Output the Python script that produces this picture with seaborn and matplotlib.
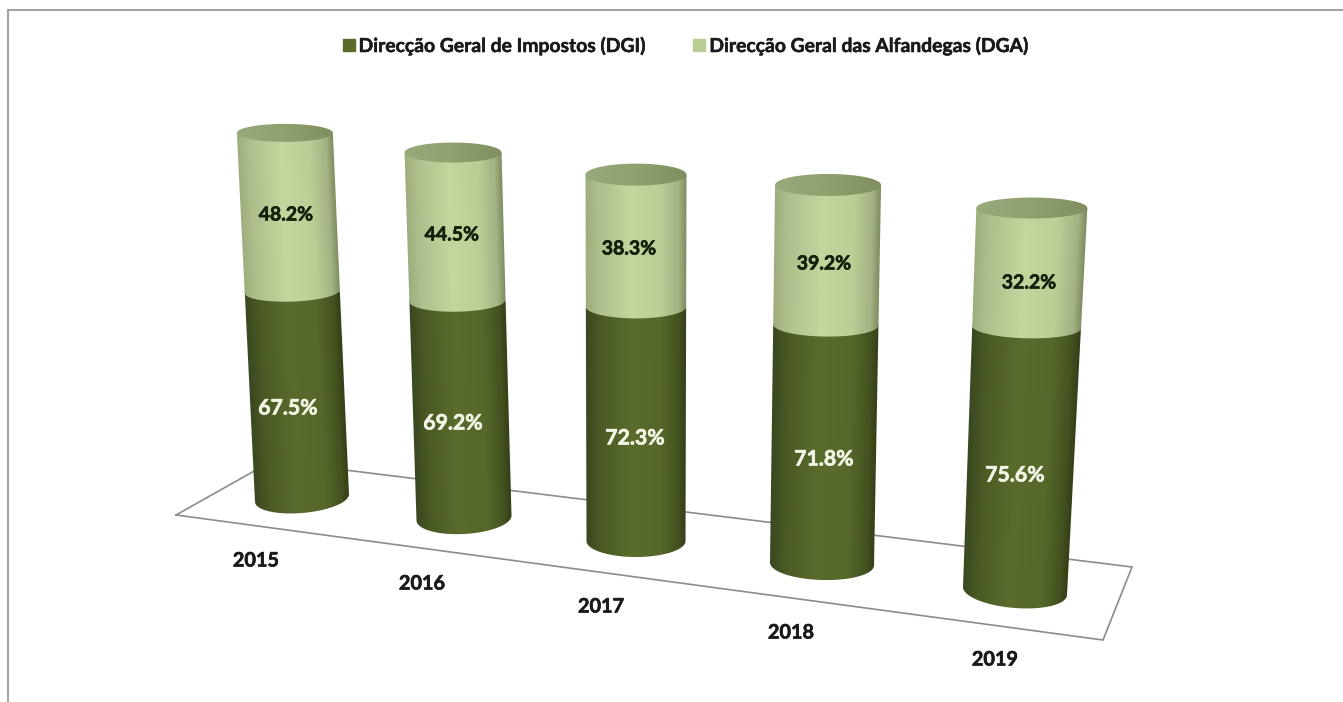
import numpy as np
import pandas as pd
import matplotlib
matplotlib.use('Agg')
from matplotlib import pyplot as plt
from matplotlib import patheffects as pe
from matplotlib.colors import to_rgb
from matplotlib.patches import Patch, PathPatch
from matplotlib.path import Path
from matplotlib.transforms import Affine2D
import seaborn as sns

# values
years = ['2015', '2016', '2017', '2018', '2019']
dgi = [67.5, 69.2, 72.3, 71.8, 75.6]
dga = [48.2, 44.5, 38.3, 39.2, 32.2]
legend_labels = ['Direcção Geral de Impostos (DGI)', 'Direcção Geral das Alfandegas (DGA)']

# perspective layout of each cylinder, in pixels of the 1343x702 picture
base_x = [302, 464, 636, 822, 1015]
base_y = [498, 518, 541, 564, 591]
lean = [-0.047, -0.030, 0.0, 0.016, 0.044]
scale_low = [3.06, 3.14, 3.24, 3.33, 3.49]
scale_up = [3.29, 3.33, 3.45, 3.57, 3.70]
rx_base = [47, 47.5, 49.5, 52, 52]
rx_top = [48, 48.5, 50.5, 53, 55.5]
ry_base = [15, 16, 16, 16, 17]
ry_top = [9, 10, 11, 11, 10.5]

dgi_label_pos = [(288, 408.5), (453, 423.5), (635, 438.5), (824, 459.5), (1015, 475.5)]
dga_label_pos = [(286, 215), (452, 235), (629, 249), (824, 264), (1029, 283)]
year_label_pos = [(256, 560.5), (422, 583.5), (601, 606.5), (791, 632.5), (995, 659.5)]

floor_x = [176, 272, 1132, 1103, 176]
floor_y = [515, 461, 567, 640, 515]

dark_stops = [(-1, '#3a4820'), (-0.7, '#4a5a24'), (-0.1, '#596c2c'), (0.5, '#55682a'), (0.85, '#43521f'), (1, '#343f18')]
light_stops = [(-1, '#9dad7c'), (-0.75, '#aebf8c'), (-0.1, '#c4d59e'), (0.5, '#bccd96'), (0.85, '#a2b282'), (1, '#7e8c5f')]
cap_stops = [(-1, '#98a97b'), (0, '#8fa16f'), (1, '#7f8f5f')]

sns.set_theme(style='white')
plt.rcParams['font.family'] = ['Lato', 'DejaVu Sans']

fig = plt.figure(figsize=(13.43, 7.02), dpi=100)
ax = fig.add_axes([0, 0, 1, 1])

data = pd.DataFrame({'year': years, 'dgi': dgi, 'dga': dga})
sns.barplot(data=data, x='year', y='dgi', color='#55682a', saturation=1, width=0.8, ax=ax)
sns.barplot(data=data, x='year', y='dga', color='#bccd96', saturation=1, width=0.8, ax=ax)
low_bars = list(ax.containers[0])
up_bars = list(ax.containers[1])


def shade(u, stops):
    pos = [s[0] for s in stops]
    rgb = np.array([to_rgb(s[1]) for s in stops])
    return np.dstack([np.interp(u, pos, rgb[:, c]) for c in range(3)])


def geometry(i):
    y_split = base_y[i] - dgi[i] * scale_low[i]
    y_end = y_split - dga[i] * scale_up[i]

    def at(y):
        t = (base_y[i] - y) / (base_y[i] - y_end)
        cx = base_x[i] + lean[i] * (base_y[i] - y)
        rx = rx_base[i] + (rx_top[i] - rx_base[i]) * t
        ry = ry_top[i] + (ry_base[i] - ry_top[i]) * (1 - t) ** 2
        tilt = 1.7 * lean[i] * (1 - t)
        return cx, rx, ry, tilt

    return y_split, y_end, at


def arc(y, at, start, stop):
    # part of the ellipse round the cylinder axis at height y
    cx, rx, ry, tilt = at(y)
    a = np.linspace(start, stop, 60)
    dx = rx * np.cos(a)
    return cx + dx, y + ry * np.sin(a) + tilt * dx


def paint(xs, ys, at, stops, zorder):
    x0, x1 = int(xs.min()) - 2, int(xs.max()) + 3
    y0, y1 = int(ys.min()) - 2, int(ys.max()) + 3
    gx, gy = np.meshgrid(np.arange(x0, x1) + 0.5, np.arange(y0, y1) + 0.5)
    cx, rx, _, _ = at(gy)
    img = ax.imshow(shade((gx - cx) / rx, stops), extent=(x0, x1, y1, y0), origin='upper',
                    aspect='auto', interpolation='bilinear', zorder=zorder)
    clip = PathPatch(Path(np.column_stack([xs, ys])), transform=ax.transData)
    img.set_clip_path(clip)


def segment(i, y_up, y_low, at, stops, zorder):
    cx, rx, _, _ = at(y_up)
    ax_, ay_ = arc(y_low, at, 0, np.pi)
    xs = np.r_[cx - rx, cx + rx, ax_, cx - rx]
    ys = np.r_[y_up, y_up, ay_, y_up]
    paint(xs, ys, at, stops, zorder)


def place_bar(bar, i, y0, scale):
    # maps the bar from value space on to the leaning cylinder
    half = min(rx_base[i], rx_top[i]) - 2
    a = half / 0.4
    m = Affine2D.from_values(a, 0, lean[i] * scale, -scale, base_x[i] + lean[i] * (base_y[i] - y0) - a * i, y0)
    bar.set_transform(m + ax.transData)
    bar.set_zorder(2)


def heavy(text, color, width=0.45):
    # the original lettering is a little heavier than Lato Bold
    text.set_path_effects([pe.withStroke(linewidth=width, foreground=color)])


ax.plot(floor_x, floor_y, color='#8c8c8c', lw=1.2, zorder=1, solid_joinstyle='miter')
ax.plot([8, 8, 1343], [702, 10, 10], color='#a3a3a3', lw=1.5, zorder=1, solid_joinstyle='miter')

for i in range(len(years)):
    y_split, y_end, at = geometry(i)
    place_bar(low_bars[i], i, base_y[i], scale_low[i])
    place_bar(up_bars[i], i, y_split, scale_up[i])
    segment(i, y_split, base_y[i], at, dark_stops, 3)
    segment(i, y_end, y_split, at, light_stops, 4)
    cap_x, cap_y = arc(y_end, at, 0, 2 * np.pi)
    paint(cap_x, cap_y, at, cap_stops, 5)

    t = ax.text(*dgi_label_pos[i], f'{dgi[i]:.1f}%', color='#f2f6e6', fontsize=15.3, fontweight='bold',
                ha='center', va='center', zorder=6)
    heavy(t, '#f2f6e6')
    t = ax.text(*dga_label_pos[i], f'{dga[i]:.1f}%', color='#14200c', fontsize=14, fontweight='bold',
                ha='center', va='center', zorder=6)
    heavy(t, '#14200c')
    t = ax.text(*year_label_pos[i], years[i], color='#1a1a1a', fontsize=14.3, fontweight='bold',
                ha='center', va='center', zorder=6)
    heavy(t, '#1a1a1a')

handles = [Patch(color='#5a6b2a'), Patch(color='#b9cc91')]
leg = ax.legend(handles, legend_labels, ncol=2, frameon=False, loc='center',
                bbox_to_anchor=(685 / 1343, 1 - 46 / 702), bbox_transform=ax.transAxes,
                handlelength=0.62, handleheight=0.62, handletextpad=0.2,
                columnspacing=2.55, borderpad=0, labelcolor='#1a1a1a',
                prop={'weight': 'bold', 'size': 13.9})
for t in leg.get_texts():
    heavy(t, '#1a1a1a', 0.35)

ax.set_xlim(0, 1343)
ax.set_ylim(702, 0)
ax.axis('off')

plt.savefig('out.png', dpi=100)
